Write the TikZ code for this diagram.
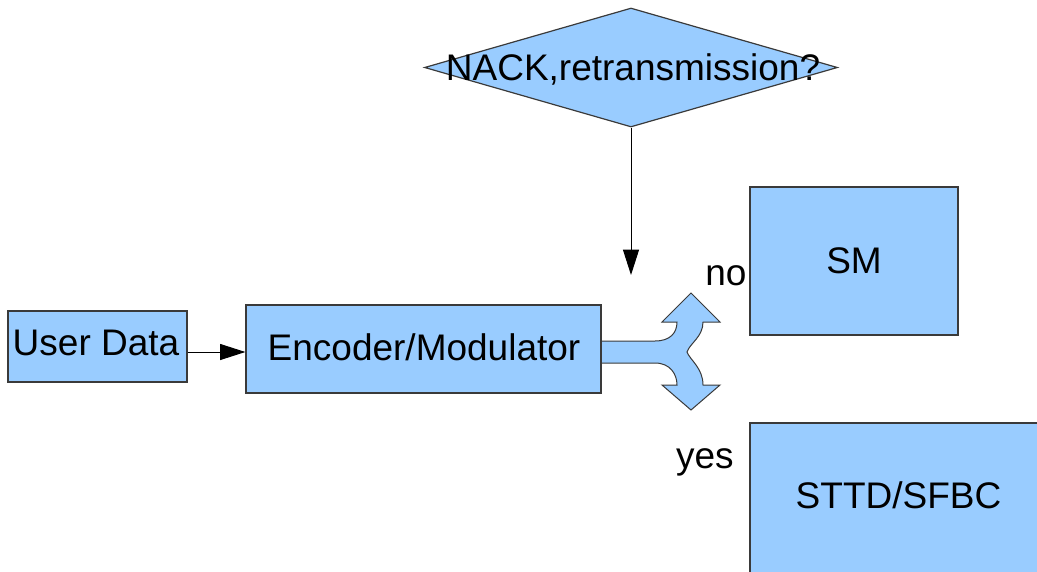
\documentclass[tikz,border=0pt]{standalone}
\usepackage{fontspec}
\setmainfont{Liberation Sans}
\usetikzlibrary{arrows.meta,shapes.geometric}
\definecolor{boxfill}{HTML}{99CCFF}
\definecolor{boxline}{HTML}{3A3A3A}
\tikzset{
  blk/.style={draw=boxline, fill=boxfill, line width=0.9pt, inner sep=0pt},
  lbl/.style={font=\fontsize{27.75pt}{33pt}\selectfont, inner sep=0pt, anchor=base},
  conn/.style={line width=0.75pt, -{Triangle[length=19pt,width=12pt]}},
}
\begin{document}
\begin{tikzpicture}[x=0.75pt,y=-0.75pt]
  \clip (0,0) rectangle (1037,571);

  % branching arrow out of the modulator
  \path[draw=boxline, fill=boxfill, line width=0.75pt]
    (590,341) -- (655,341)
    .. controls (670,341) and (677,333) .. (677,322)
    -- (662,322) -- (691,293) -- (720,322) -- (703,322)
    .. controls (703,337) and (690,343) .. (687,352)
    .. controls (690,360) and (703,368) .. (703,385)
    -- (720,385) -- (691,410) -- (662,385) -- (677,385)
    .. controls (677,374) and (670,363) .. (655,363)
    -- (590,363) -- cycle;

  % blocks
  \node[blk, minimum width=179*0.75pt, minimum height=71*0.75pt]  (ud)  at (97.5,346.5) {};
  \node[blk, minimum width=355*0.75pt, minimum height=88*0.75pt]  (enc) at (423.5,349) {};
  \node[blk, minimum width=208*0.75pt, minimum height=148*0.75pt] (sm)  at (854,261) {};
  \node[blk, minimum width=300*0.75pt, minimum height=170*0.75pt] (stbc) at (900,508) {};
  \node[blk, diamond, minimum width=413*0.75pt, minimum height=119*0.75pt] (q) at (631,67.5) {};

  % texts
  \node[lbl] at (96,355)  {User Data};
  \node[lbl] at (424,360) {Encoder/Modulator};
  \node[lbl] at (633,80)  {NACK,retransmission?};
  \node[lbl] at (854,273) {SM};
  \node[lbl] at (898.5,508) {STTD/SFBC};
  \node[lbl, anchor=base west] at (705,285) {no};
  \node[lbl, anchor=base east] at (734,468) {yes};

  % connectors
  \coordinate (qtip) at (631,275);
  \draw[conn] (q.south) -- (qtip);
  \draw[conn] (ud.east |- 0,352) -- (enc.west |- 0,352);
\end{tikzpicture}
\end{document}
